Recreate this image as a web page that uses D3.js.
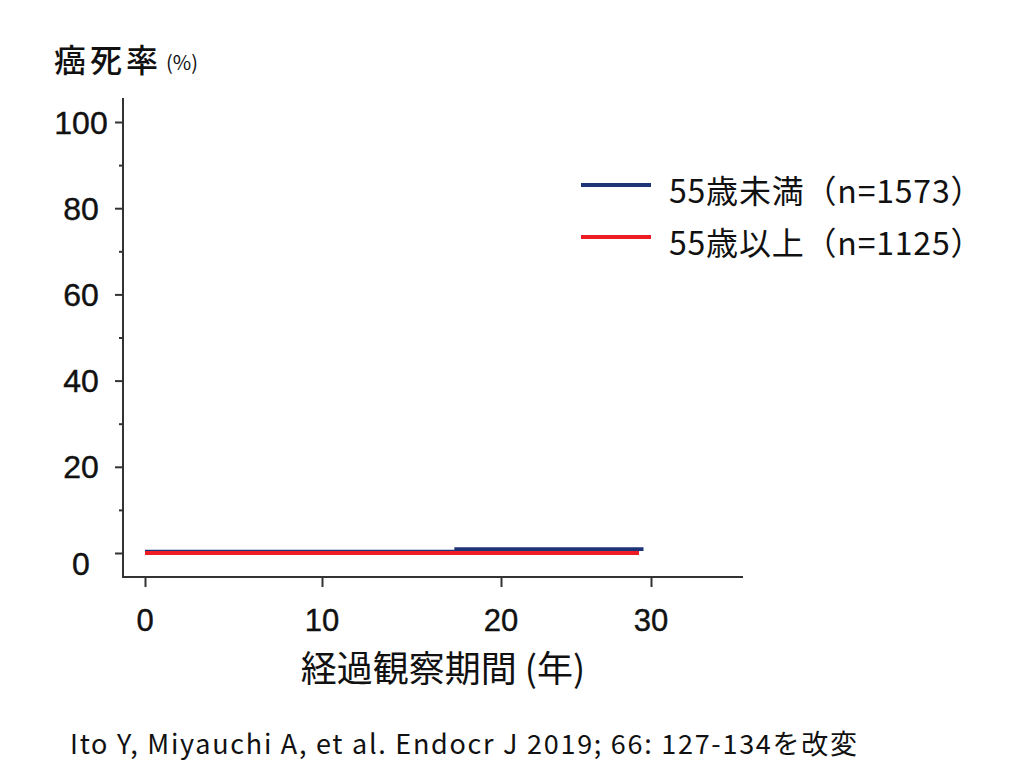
<!DOCTYPE html>
<html><head><meta charset="utf-8">
<script src="https://cdn.jsdelivr.net/npm/d3@7"></script>
<style>body{margin:0;background:#fff}svg{display:block}</style>
</head><body><svg id="c" width="1024" height="766"></svg>
<script>
// ---- data ----
const xTicks = [0, 10, 20, 30];
const yTicks = [0, 20, 40, 60, 80, 100];
const yMinorTicks = [10, 30, 50, 70, 90];
const seriesNames = ["55歳未満（n=1573）", "55歳以上（n=1125）"];
const under55 = [[0, 0.3], [17.5, 0.9], [29.5, 0.9]];   // [years, %]
const over55 = [[0, 0], [29.2, 0]];
const yTitle = "癌死率";
const yUnit = "(%)";
const xTitle = "経過観察期間 (年)";
const citation = "Ito Y, Miyauchi A, et al. Endocr J 2019; 66: 127-134を改変";

// ---- layout ----
const colors = ["#1f3477", "#ee1c24"];
const axisColor = "#333";
const jp = "'Noto Sans CJK JP','Noto Sans',sans-serif";
const num = "'Liberation Sans',Arial,sans-serif";
const svg = d3.select("#c");

const x = d3.scaleLinear().domain([0, 10, 20, 30, 36]).range([145, 322, 501, 651, 743]);
const y = d3.scaleLinear().domain([0, 100]).range([553, 122]);
const axisX = 123, axisY = 577, axisTop = 98, axisRight = 743;

// y axis
svg.append("line").attr("x1", axisX).attr("x2", axisX).attr("y1", axisTop).attr("y2", axisY)
  .attr("stroke", axisColor).attr("stroke-width", 2);
const gy = svg.append("g").attr("transform", `translate(${axisX},0)`)
  .call(d3.axisLeft(y).tickValues(yTicks).tickSize(8).tickFormat(""));
gy.select(".domain").remove();
gy.selectAll("line").attr("stroke", axisColor).attr("stroke-width", 2);
const gym = svg.append("g").attr("transform", `translate(${axisX},0)`)
  .call(d3.axisLeft(y).tickValues(yMinorTicks).tickSize(4).tickFormat(""));
gym.select(".domain").remove();
gym.selectAll("line").attr("stroke", axisColor).attr("stroke-width", 2);
svg.append("g").selectAll("text").data(yTicks).join("text")
  .attr("x", 81).attr("y", d => y(d) + (d === 0 ? 10 : 0)).attr("dy", "0.36em")
  .attr("text-anchor", "middle").attr("font-family", num).attr("font-size", 32)
  .attr("fill", "#111").attr("stroke", "#111").attr("stroke-width", 0.4).text(d => d);

// x axis
svg.append("line").attr("x1", axisX - 1).attr("x2", axisRight).attr("y1", axisY).attr("y2", axisY)
  .attr("stroke", axisColor).attr("stroke-width", 2);
const gx = svg.append("g").attr("transform", `translate(0,${axisY})`)
  .call(d3.axisBottom(x).tickValues(xTicks).tickSize(10).tickFormat(""));
gx.select(".domain").remove();
gx.selectAll("line").attr("stroke", axisColor).attr("stroke-width", 2);
svg.append("g").selectAll("text").data(xTicks).join("text")
  .attr("x", d => x(d)).attr("y", 620).attr("dy", "0.36em")
  .attr("text-anchor", "middle").attr("font-family", num).attr("font-size", 31)
  .attr("fill", "#111").attr("stroke", "#111").attr("stroke-width", 0.4).text(d => d);

// titles
svg.append("text").attr("x", 54).attr("y", 72).attr("font-family", jp).attr("font-size", 32)
  .attr("font-weight", 500).attr("fill", "#111").attr("letter-spacing", 4).text(yTitle);
svg.append("text").attr("x", 166).attr("y", 70).attr("font-family", jp).attr("font-size", 20)
  .attr("fill", "#111").text(yUnit);
svg.append("text").attr("x", 443).attr("y", 682).attr("text-anchor", "middle")
  .attr("font-family", jp).attr("font-size", 36).attr("fill", "#111").text(xTitle);
svg.append("text").attr("x", 70).attr("y", 754).attr("font-family", jp).attr("font-size", 27)
  .attr("fill", "#111").attr("textLength", 787).attr("lengthAdjust", "spacing").text(citation);

// lines (red drawn on top)
const line = d3.line().x(d => x(d[0])).y(d => y(d[1])).curve(d3.curveStepAfter);
[under55, over55].forEach((s, i) => {
  svg.append("path").datum(s).attr("d", line).attr("fill", "none")
    .attr("stroke", colors[i]).attr("stroke-width", 3.8);
});

// legend
const leg = svg.append("g");
seriesNames.forEach((n, i) => {
  const ly = 185 + i * 52;
  leg.append("line").attr("x1", 581).attr("x2", 651).attr("y1", ly).attr("y2", ly)
    .attr("stroke", colors[i]).attr("stroke-width", 4);
  leg.append("text").attr("x", 669).attr("y", ly + 6).attr("dy", "0.36em")
    .attr("font-family", jp).attr("font-size", 32).attr("letter-spacing", 0.8)
    .attr("fill", "#111").text(n);
});
</script></body></html>
